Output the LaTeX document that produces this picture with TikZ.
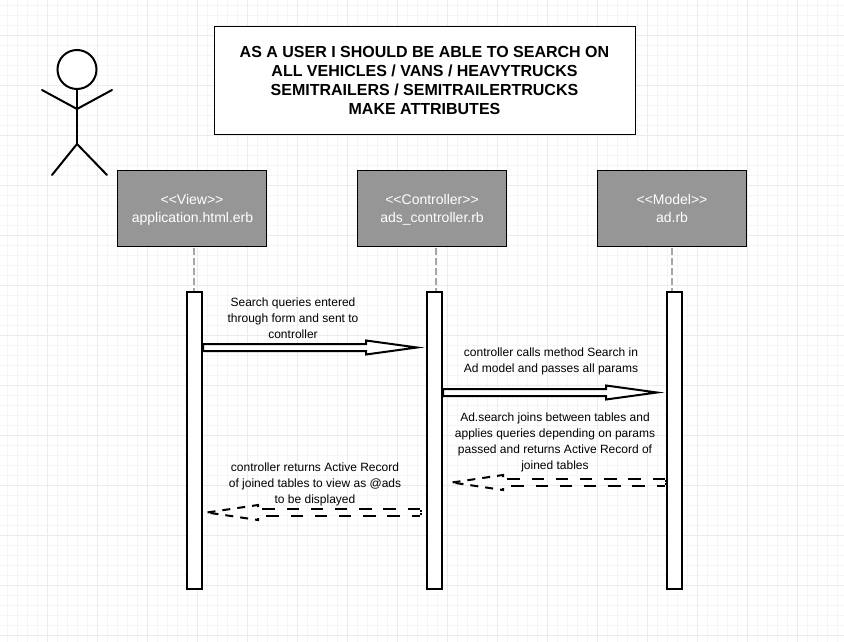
\documentclass[tikz,border=0pt]{standalone}
\usepackage{fontspec}
\setmainfont{Liberation Sans}
\tikzset{
  x=1pt,y=-1pt,
  stick/.style={draw=black,line width=2pt,line cap=round,line join=round},
  lifebar/.style={draw=black,line width=2pt,fill=white,minimum width=15pt,minimum height=297pt,inner sep=0pt},
  rolebox/.style={draw=black,line width=1pt,fill=black!41,text=white,minimum width=149pt,minimum height=76pt,inner sep=0pt,align=center,font=\fontsize{14}{18}\selectfont},
  titlebox/.style={draw=black,line width=1pt,fill=white,minimum width=421pt,minimum height=108pt,inner sep=0pt,align=center,font=\bfseries\fontsize{16}{19}\selectfont},
  msg/.style={align=center,inner sep=0pt,font=\fontsize{12}{16}\selectfont},
  lifeline/.style={draw=black!35,line width=2pt,dash pattern=on 7pt off 3pt,shorten <=1pt},
  callarrow/.style={draw=black,line width=2pt,fill=white,line join=miter},
  rettop/.style={draw=black,line width=2pt,dash pattern=on 12.4pt off 11.8pt},
  retbot/.style={draw=black,line width=2pt,dash pattern=on 12.4pt off 11.8pt,dash phase=4pt},
  headtop/.style={draw=black,line width=2pt,dash pattern=on 8pt off 7pt},
  headbot/.style={draw=black,line width=2pt,dash pattern=on 8pt off 7pt,dash phase=3pt},
  tailtick/.style={draw=black,line width=1.5pt,dash pattern=on 1.5pt off 1.5pt}
}
\newcommand{\rolefirst}{\rule{0pt}{14.6pt}}
\begin{document}
\begin{tikzpicture}
\useasboundingbox (0,0) rectangle (844,642);
\fill[white] (0,0) rectangle (844,642);
\foreach \gx in {7,17,...,844}{\draw[black!4,line width=.7pt] (\gx,0) -- (\gx,642);}
\foreach \gy in {5,15,...,642}{\draw[black!4,line width=.7pt] (0,\gy) -- (844,\gy);}
\foreach \gx in {47,97,...,844}{\draw[black!8,line width=.7pt] (\gx,0) -- (\gx,642);}
\foreach \gy in {35,85,...,642}{\draw[black!8,line width=.7pt] (0,\gy) -- (844,\gy);}

% actor
\node[circle,draw=black,line width=2pt,fill=white,minimum size=39pt,inner sep=0pt] (head) at (77,69.5) {};
\coordinate (neck) at (77,109);
\coordinate (hip) at (77,144);
\coordinate (lhand) at (42,90);
\coordinate (rhand) at (112,90);
\coordinate (lfoot) at (52,175);
\coordinate (rfoot) at (107,175);
\draw[stick] (head.south) -- (hip);
\draw[stick] (lhand) -- (neck) -- (rhand);
\draw[stick] (lfoot) -- (hip) -- (rfoot);

% title
\node[titlebox] (title) at (425,80.5) {\hspace{-1pt}AS A USER I SHOULD BE ABLE TO SEARCH ON\\\hspace{-1pt}ALL VEHICLES / VANS / HEAVYTRUCKS\\\hspace{-1pt}SEMITRAILERS / SEMITRAILERTRUCKS\\\hspace{-1pt}MAKE ATTRIBUTES};

% role boxes
\node[rolebox] (view) at (192,208.5) {\rolefirst<{}<View>{}>\\\strut\hspace{1pt}application.html.erb};
\node[rolebox] (ctrl) at (432,208.5) {\rolefirst<{}<Controller>{}>\\\strut ads\_controller.rb};
\node[rolebox] (model) at (672,208.5) {\rolefirst<{}<Model>{}>\\\strut ad.rb};

% bars
\node[lifebar] (vbar) at (194.5,440.5) {};
\node[lifebar] (cbar) at (434.5,440.5) {};
\node[lifebar] (mbar) at (674.5,440.5) {};

% lifelines
\draw[lifeline] (view.south -| 194,0) -- (vbar.north -| 194,0);
\draw[lifeline] (ctrl.south -| 436,0) -- (cbar.north -| 436,0);
\draw[lifeline] (model.south -| 672,0) -- (mbar.north -| 672,0);

% call arrows
\coordinate (c1tip) at ([xshift=-9pt]cbar.west |- 0,347.5);
\coordinate (c2tip) at ([xshift=-9pt]mbar.west |- 0,392.5);
\draw[callarrow] (vbar.east |- 0,344) -- (366,344) -- (366,340.5) -- (c1tip) -- (366,354.5) -- (366,351) -- (vbar.east |- 0,351) -- cycle;
\draw[callarrow] (cbar.east |- 0,389) -- (606,389) -- (606,385.5) -- (c2tip) -- (606,399.5) -- (606,396) -- (cbar.east |- 0,396) -- cycle;

% return arrow controller -> view
\coordinate (r1tip) at ([xshift=4pt]vbar.east |- 0,512.5);
\draw[rettop] (420,509) -- (258,509);
\draw[retbot] (420,516) -- (258,516);
\draw[headtop] (258,507) -- (258,505) -- (r1tip);
\draw[headbot] (258,518) -- (258,520) -- (r1tip);
\draw[tailtick] (421,510) -- (421,515);

% return arrow model -> controller
\coordinate (r2tip) at ([xshift=9pt]cbar.east |- 0,482.5);
\draw[rettop] (665,479) -- (503,479);
\draw[retbot] (665,486) -- (503,486);
\draw[headtop] (503,477) -- (503,475) -- (r2tip);
\draw[headbot] (503,488) -- (503,490) -- (r2tip);
\draw[tailtick] (666,480) -- (666,485);

% labels
\node[msg] (m1) at (293,318) {Search queries entered\\through form and sent to\\controller};
\node[msg] (m2) at (551,361) {controller calls method Search in\\Ad model and passes all params};
\node[msg] (m3) at (555,442) {Ad.search joins between tables and\\applies queries depending on params\\passed and returns Active Record of\\joined tables};
\node[msg] (m4) at (315,484) {controller returns Active Record\\of joined tables to view as @ads\\to be displayed};
\end{tikzpicture}
\end{document}
